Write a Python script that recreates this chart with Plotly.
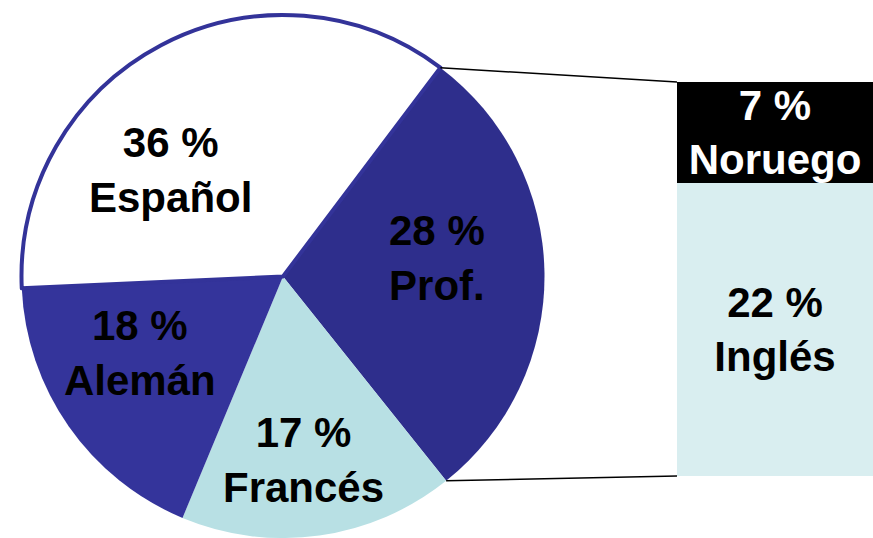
import math
import plotly.graph_objects as go

# ---------------- data ----------------
pie_labels = ["Prof.", "Francés", "Alemán", "Español"]
pie_values = [29, 17, 18, 36]
pie_text = ["28 %<br>Prof.", "17 %<br>Francés", "18 %<br>Alemán", "36 %<br>Español"]

bar_labels = ["Inglés", "Noruego"]
bar_values = [21.6, 7.4]
bar_text = ["22 %<br>Inglés", "7 %<br>Noruego"]

# ---------------- styles ----------------
W, H = 873, 538
OFF = 0  # body margin removed by post_script
FONT = "Liberation Sans, Arial, sans-serif"
FS = 42
pie_colors = ["#2E2E8C", "#B8E0E4", "#34349B", "#FFFFFF"]
pie_line_w = [0, 0, 0, 4]
bar_colors = ["#D9EEF0", "#000000"]
bar_text_colors = ["#000000", "#FFFFFF"]

rotation = 37


def px_x(p):
    return (p - OFF) / W


def px_y(p):
    return 1 - (p - OFF) / H


pie_dom_x = [px_x(20), px_x(546)]
pie_dom_y = [0.0, px_y(15)]
bar_dom_x = [px_x(677), 1.0]
bar_dom_y = [px_y(476), px_y(82)]

# label positions (screen pixels)
label_pos = [(437, 258), (303, 460), (140, 353), (170, 170)]

fig = go.Figure()

fig.add_trace(go.Pie(
    labels=pie_labels, values=pie_values, sort=False, direction="clockwise",
    rotation=rotation, textinfo="none", hoverinfo="label+percent",
    marker=dict(colors=pie_colors, line=dict(color="#333399", width=pie_line_w)),
    domain=dict(x=pie_dom_x, y=pie_dom_y), showlegend=False,
))

for lab, val, txt, col, tcol in zip(bar_labels, bar_values, bar_text, bar_colors, bar_text_colors):
    fig.add_trace(go.Bar(
        x=[0], y=[val], name=lab, width=1, marker=dict(color=col, line=dict(width=0)),
        text=[txt], textposition="inside", insidetextanchor="middle",
        constraintext="none", textangle=0,
        textfont=dict(family=FONT, size=FS, color=tcol, weight="bold"),
        xaxis="x", yaxis="y", showlegend=False,
    ))

# connector lines computed from the slice geometry (in figure pixels)
cx = (pie_dom_x[0] + pie_dom_x[1]) / 2 * W
cy = H - (pie_dom_y[0] + pie_dom_y[1]) / 2 * H
r = min((pie_dom_x[1] - pie_dom_x[0]) * W, (pie_dom_y[1] - pie_dom_y[0]) * H) / 2
total = sum(pie_values)
a0 = math.radians(rotation)
a1 = math.radians(rotation + 360 * pie_values[0] / total)
for a, by in [(a0, bar_dom_y[1]), (a1, bar_dom_y[0])]:
    px = cx + r * math.sin(a)
    py = cy - r * math.cos(a)
    fig.add_shape(type="line", xref="paper", yref="paper",
                  x0=px / W, y0=1 - py / H, x1=bar_dom_x[0], y1=by,
                  line=dict(color="black", width=1.5))

for (x, y), txt in zip(label_pos, pie_text):
    fig.add_annotation(x=px_x(x), y=px_y(y), xref="paper", yref="paper",
                       text=txt, showarrow=False, xanchor="center", yanchor="middle",
                       font=dict(family=FONT, size=FS, color="black", weight="bold"))

fig.update_layout(
    width=W, height=H, margin=dict(l=0, r=0, t=0, b=0),
    paper_bgcolor="white", plot_bgcolor="rgba(0,0,0,0)",
    barmode="stack", bargap=0,
    xaxis=dict(domain=bar_dom_x, range=[-0.5, 0.5], visible=False, fixedrange=True),
    yaxis=dict(domain=bar_dom_y, range=[0, sum(bar_values)], visible=False, fixedrange=True),
)

fig.write_html(
    "out.html",
    config={"displayModeBar": False},
    post_script="document.body.style.margin='0';document.body.style.overflow='hidden';",
)
